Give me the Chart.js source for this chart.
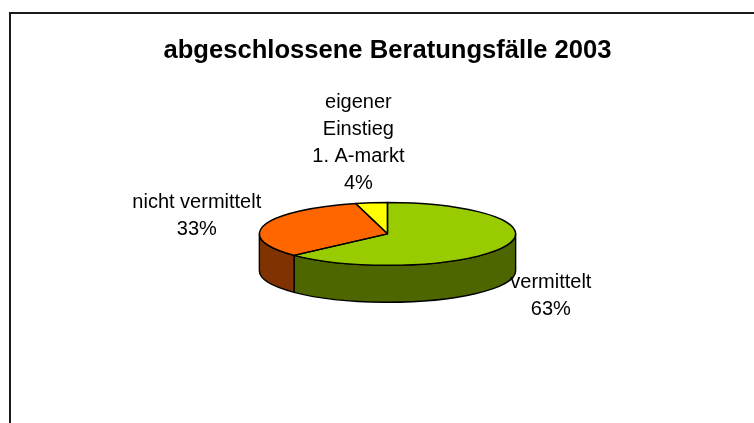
<!DOCTYPE html>
<html lang="de">
<head>
<meta charset="utf-8">
<title>abgeschlossene Beratungsfälle 2003</title>
<script src="https://cdn.jsdelivr.net/npm/chart.js@4.4.1/dist/chart.umd.min.js"></script>
<style>
  html, body { margin: 0; padding: 0; background: #fff; }
  #wrap { position: relative; width: 754px; height: 423px; }
</style>
</head>
<body>
<div id="wrap"><canvas id="pieChart"></canvas></div>
<script>
(function () {
  'use strict';

  // --- Data ---
  const categories = ['vermittelt', 'nicht vermittelt', 'eigener Einstieg 1. A-markt'];
  const labelLines = [['vermittelt'], ['nicht vermittelt'], ['eigener', 'Einstieg', '1. A-markt']];
  const shares = [63, 33, 4];
  const topColors = ['#99CC00', '#FF6600', '#FFFF00'];
  const sideColors = ['#4D6600', '#803300', '#808000'];

  const FONT = "'Liberation Sans', Arial, sans-serif";
  const TILT = 0.245;   // vertical squash of the top face
  const DEPTH = 37;     // height of the rim in px
  const LINE = 27;      // label line height
  const GAP = 6;

  // --- Frame round the whole chart ---
  const framePlugin = {
    id: 'frame',
    beforeDraw: function (chart) {
      const ctx = chart.ctx;
      ctx.save();
      ctx.fillStyle = '#fff';
      ctx.fillRect(0, 0, chart.width, chart.height);
      ctx.lineWidth = 2;
      ctx.strokeStyle = '#1a1a1a';
      ctx.strokeRect(10, 13, 800, 500);
      ctx.restore();
    }
  };

  // --- Fake 3D: rim under the arcs, squashed top, outlines, labels ---
  const pie3dPlugin = {
    id: 'pie3d',
    beforeDatasetsDraw: function (chart) {
      const ctx = chart.ctx;
      const arcs = chart.getDatasetMeta(0).data;
      if (!arcs.length) return;
      const cx = arcs[0].x, cy = arcs[0].y, r = arcs[0].outerRadius;

      // rim: only the front half (0..PI) shows
      arcs.forEach(function (arc, i) {
        const a1 = Math.max(arc.startAngle, 0);
        const a2 = Math.min(arc.endAngle, Math.PI);
        if (a2 <= a1) return;
        ctx.beginPath();
        ctx.ellipse(cx, cy, r, r * TILT, 0, a1, a2);
        ctx.lineTo(cx + r * Math.cos(a2), cy + r * TILT * Math.sin(a2) + DEPTH);
        ctx.ellipse(cx, cy + DEPTH, r, r * TILT, 0, a2, a1, true);
        ctx.closePath();
        ctx.fillStyle = sideColors[i];
        ctx.fill();
        ctx.lineWidth = 1.4;
        ctx.strokeStyle = '#000';
        ctx.lineJoin = 'round';
        ctx.stroke();
      });

      ctx.save();
      ctx.translate(cx, cy);
      ctx.scale(1, TILT);
      ctx.translate(-cx, -cy);
    },
    afterDatasetsDraw: function (chart) {
      const ctx = chart.ctx;
      ctx.restore();
      const arcs = chart.getDatasetMeta(0).data;
      if (!arcs.length) return;
      const cx = arcs[0].x, cy = arcs[0].y, r = arcs[0].outerRadius;

      ctx.save();
      ctx.lineWidth = 1.4;
      ctx.strokeStyle = '#000';
      ctx.lineJoin = 'round';
      arcs.forEach(function (arc) {
        ctx.beginPath();
        ctx.moveTo(cx, cy);
        ctx.lineTo(cx + r * Math.cos(arc.startAngle), cy + r * TILT * Math.sin(arc.startAngle));
        ctx.ellipse(cx, cy, r, r * TILT, 0, arc.startAngle, arc.endAngle);
        ctx.closePath();
        ctx.stroke();
      });

      // labels outside each slice
      ctx.font = '20px ' + FONT;
      ctx.fillStyle = '#000';
      ctx.textAlign = 'center';
      ctx.textBaseline = 'middle';
      arcs.forEach(function (arc, i) {
        const mid = (arc.startAngle + arc.endAngle) / 2;
        const cos = Math.cos(mid), sin = Math.sin(mid);
        const px = cx + r * cos;
        const py = cy + r * TILT * sin + (sin > 0 ? DEPTH : 0);
        const lines = labelLines[i].concat([shares[i] + '%']);
        let w = 0;
        lines.forEach(function (t) { w = Math.max(w, ctx.measureText(t).width); });
        const h = lines.length * LINE;
        // tall labels sit a bit further off to the side
        const bx = px + cos * (w / 2 + GAP) * (lines.length > 2 ? 2 : 1) + (cos > 0 ? 3 : 0);
        const by = py + sin * (h / 2 + GAP);
        lines.forEach(function (t, k) {
          ctx.fillText(t, bx, by - h / 2 + LINE / 2 + k * LINE);
        });
      });
      ctx.restore();
    }
  };

  Chart.defaults.font.family = FONT;

  new Chart(document.getElementById('pieChart'), {
    type: 'pie',
    data: {
      labels: categories,
      datasets: [{
        data: shares,
        backgroundColor: topColors,
        borderWidth: 0,
        hoverOffset: 0,
        offset: 0
      }]
    },
    options: {
      responsive: true,
      maintainAspectRatio: false,
      animation: false,
      events: [],
      layout: { padding: { left: 21, right: 0, top: 30, bottom: 61 } },
      plugins: {
        legend: { display: false },
        tooltip: { enabled: false },
        title: {
          display: true,
          text: 'abgeschlossene Beratungsfälle 2003',
          color: '#000',
          font: { size: 25.6, weight: 'bold', lineHeight: 1.2 },
          padding: { top: 6, bottom: 39 }
        }
      }
    },
    plugins: [framePlugin, pie3dPlugin]
  });
})();
</script>
</body>
</html>
